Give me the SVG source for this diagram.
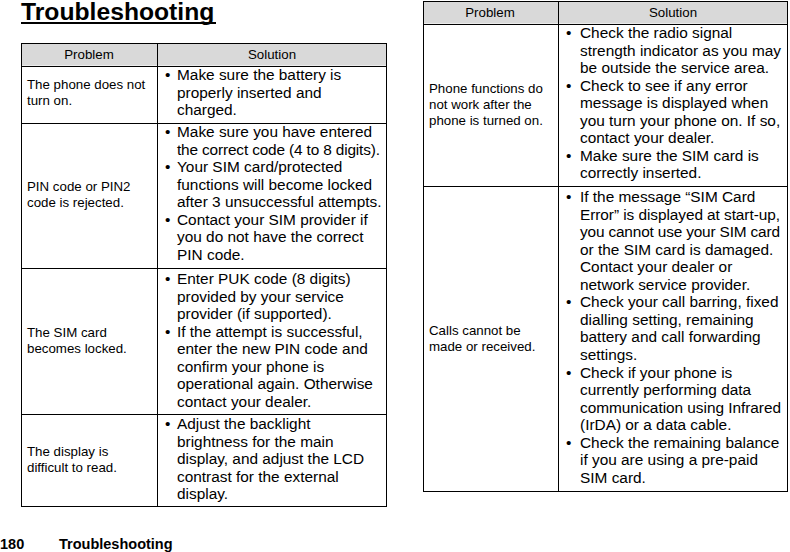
<svg xmlns="http://www.w3.org/2000/svg" width="790" height="552" viewBox="0 0 790 552">
<style>
text{font-family:"Liberation Sans",Arial,sans-serif;fill:#000}
.t{font-size:24.7px;font-weight:bold}
.f{font-size:14.5px;font-weight:bold}
.h{font-size:13.3px;text-anchor:middle}
.p{font-size:13.3px}
.s{font-size:15.4px}
.ln{stroke:#000;stroke-width:1;fill:none}
.hd{fill:#d9d9d9}
</style>
<rect width="790" height="552" fill="#fff"/>
<g id="title">
<text class="t" x="21" y="19.5">Troubleshooting</text>
<line x1="21" y1="23" x2="216" y2="23" stroke="#000" stroke-width="2"/>
</g>
<g id="table-left">
<rect class="hd" x="21.5" y="43.5" width="365" height="22"/>
<rect class="ln" x="21.5" y="43.5" width="365" height="463"/>
<line class="ln" x1="21" y1="66.5" x2="387" y2="66.5"/>
<line class="ln" x1="21" y1="123.5" x2="387" y2="123.5"/>
<line class="ln" x1="21" y1="268.5" x2="387" y2="268.5"/>
<line class="ln" x1="21" y1="414.5" x2="387" y2="414.5"/>
<line class="ln" x1="157.5" y1="43" x2="157.5" y2="507"/>
<text class="h" x="89" y="59">Problem</text>
<text class="h" x="272" y="59">Solution</text>
</g>
<g id="row-l1">
<text class="p" x="27" y="89">The phone does not</text>
<text class="p" x="27" y="105">turn on.</text>
<text class="s" x="165" y="80">•</text>
<text class="s" x="177" y="80">Make sure the battery is</text>
<text class="s" x="177" y="97.5">properly inserted and</text>
<text class="s" x="177" y="115">charged.</text>
</g>
<g id="row-l2">
<text class="p" x="27" y="191">PIN code or PIN2</text>
<text class="p" x="27" y="207">code is rejected.</text>
<text class="s" x="165" y="137">•</text>
<text class="s" x="177" y="137">Make sure you have entered</text>
<text class="s" x="177" y="154.5" textLength="203" lengthAdjust="spacing">the correct code (4 to 8 digits).</text>
<text class="s" x="165" y="172">•</text>
<text class="s" x="177" y="172">Your SIM card/protected</text>
<text class="s" x="177" y="189.5">functions will become locked</text>
<text class="s" x="177" y="207">after 3 unsuccessful attempts.</text>
<text class="s" x="165" y="224.5">•</text>
<text class="s" x="177" y="224.5">Contact your SIM provider if</text>
<text class="s" x="177" y="242">you do not have the correct</text>
<text class="s" x="177" y="259.5">PIN code.</text>
</g>
<g id="row-l3">
<text class="p" x="27" y="337">The SIM card</text>
<text class="p" x="27" y="353">becomes locked.</text>
<text class="s" x="165" y="284">•</text>
<text class="s" x="177" y="284">Enter PUK code (8 digits)</text>
<text class="s" x="177" y="301.5">provided by your service</text>
<text class="s" x="177" y="319">provider (if supported).</text>
<text class="s" x="165" y="336.5">•</text>
<text class="s" x="177" y="336.5">If the attempt is successful,</text>
<text class="s" x="177" y="354">enter the new PIN code and</text>
<text class="s" x="177" y="371.5">confirm your phone is</text>
<text class="s" x="177" y="389">operational again. Otherwise</text>
<text class="s" x="177" y="406.5">contact your dealer.</text>
</g>
<g id="row-l4">
<text class="p" x="27" y="456">The display is</text>
<text class="p" x="27" y="472">difficult to read.</text>
<text class="s" x="165" y="429">•</text>
<text class="s" x="177" y="429">Adjust the backlight</text>
<text class="s" x="177" y="446.5">brightness for the main</text>
<text class="s" x="177" y="464">display, and adjust the LCD</text>
<text class="s" x="177" y="481.5">contrast for the external</text>
<text class="s" x="177" y="499">display.</text>
</g>
<g id="table-right">
<rect class="hd" x="423.5" y="1.5" width="364" height="22"/>
<rect class="ln" x="423.5" y="1.5" width="364" height="490"/>
<line class="ln" x1="423" y1="24.5" x2="788" y2="24.5"/>
<line class="ln" x1="423" y1="186.5" x2="788" y2="186.5"/>
<line class="ln" x1="558.5" y1="1" x2="558.5" y2="492"/>
<text class="h" x="490" y="17">Problem</text>
<text class="h" x="673" y="17">Solution</text>
</g>
<g id="row-r1">
<text class="p" x="429" y="93">Phone functions do</text>
<text class="p" x="429" y="109">not work after the</text>
<text class="p" x="429" y="125">phone is turned on.</text>
<text class="s" x="566" y="38">•</text>
<text class="s" x="580" y="38">Check the radio signal</text>
<text class="s" x="580" y="55.5">strength indicator as you may</text>
<text class="s" x="580" y="73">be outside the service area.</text>
<text class="s" x="566" y="90.5">•</text>
<text class="s" x="580" y="90.5">Check to see if any error</text>
<text class="s" x="580" y="108">message is displayed when</text>
<text class="s" x="580" y="125.5">you turn your phone on. If so,</text>
<text class="s" x="580" y="143">contact your dealer.</text>
<text class="s" x="566" y="160.5">•</text>
<text class="s" x="580" y="160.5">Make sure the SIM card is</text>
<text class="s" x="580" y="178">correctly inserted.</text>
</g>
<g id="row-r2">
<text class="p" x="429" y="335">Calls cannot be</text>
<text class="p" x="429" y="351">made or received.</text>
<text class="s" x="566" y="202">•</text>
<text class="s" x="580" y="202">If the message “SIM Card</text>
<text class="s" x="580" y="219.5" textLength="200" lengthAdjust="spacing">Error” is displayed at start-up,</text>
<text class="s" x="580" y="237" textLength="200" lengthAdjust="spacing">you cannot use your SIM card</text>
<text class="s" x="580" y="254.5">or the SIM card is damaged.</text>
<text class="s" x="580" y="272">Contact your dealer or</text>
<text class="s" x="580" y="289.5">network service provider.</text>
<text class="s" x="566" y="307">•</text>
<text class="s" x="580" y="307">Check your call barring, fixed</text>
<text class="s" x="580" y="324.5">dialling setting, remaining</text>
<text class="s" x="580" y="342">battery and call forwarding</text>
<text class="s" x="580" y="359.5">settings.</text>
<text class="s" x="566" y="377.5">•</text>
<text class="s" x="580" y="377.5">Check if your phone is</text>
<text class="s" x="580" y="395">currently performing data</text>
<text class="s" x="580" y="412.5" textLength="201" lengthAdjust="spacing">communication using Infrared</text>
<text class="s" x="580" y="430">(IrDA) or a data cable.</text>
<text class="s" x="566" y="447.5">•</text>
<text class="s" x="580" y="447.5">Check the remaining balance</text>
<text class="s" x="580" y="465">if you are using a pre-paid</text>
<text class="s" x="580" y="482.5">SIM card.</text>
</g>
<g id="footer">
<text class="f" x="0" y="549">180</text>
<text class="f" x="59" y="549">Troubleshooting</text>
</g>
</svg>
